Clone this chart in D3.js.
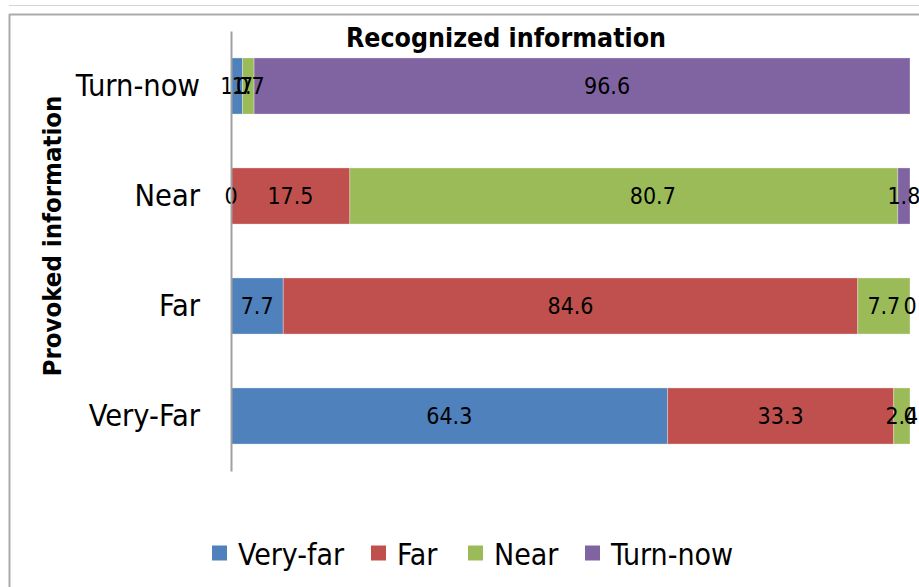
<!DOCTYPE html>
<html>
<head>
<meta charset="utf-8">
<script src="https://cdn.jsdelivr.net/npm/d3@7"></script>
<style>
  html, body { margin: 0; padding: 0; background: #fff; }
  svg { display: block; }
  text { font-family: "DejaVu Sans Condensed", "DejaVu Sans", sans-serif; fill: #000; }
</style>
</head>
<body>
<svg id="chart" width="919" height="587"></svg>
<script>
// Rows (top to bottom) and the recognized share of each class, in percent
const categories = ["Turn-now", "Near", "Far", "Very-Far"];
const seriesNames = ["Very-far", "Far", "Near", "Turn-now"];
const veryFar = [1.7, 0, 7.7, 64.3];
const far     = [0, 17.5, 84.6, 33.3];
const near    = [1.7, 80.7, 7.7, 2.4];
const turnNow = [96.6, 1.8, 0, 0];
const colors  = ["#4f81bd", "#c0504d", "#9bbb59", "#8064a2"];

const seriesValues = [veryFar, far, near, turnNow];
const rows = categories.map((c, i) => {
  const r = { category: c };
  seriesNames.forEach((s, k) => { r[s] = seriesValues[k][i]; });
  return r;
});

const svg = d3.select("#chart");
const W = 919, H = 587;

// Outer frame
svg.append("line").attr("x1", 9).attr("x2", W).attr("y1", 5.5).attr("y2", 5.5)
  .attr("stroke", "#d4d4d4").attr("stroke-width", 1);
svg.append("line").attr("x1", 9).attr("x2", W).attr("y1", 14.5).attr("y2", 14.5)
  .attr("stroke", "#ababab").attr("stroke-width", 2);
svg.append("line").attr("x1", 9.5).attr("x2", 9.5).attr("y1", 14).attr("y2", H)
  .attr("stroke", "#ababab").attr("stroke-width", 2);

const plot = { left: 231, right: 910, top: 31, bottom: 471 };

const x = d3.scaleLinear().domain([0, 100]).range([plot.left, plot.right]);
const y = d3.scaleBand().domain(categories).range([plot.top, plot.bottom])
  .paddingInner(0.49).paddingOuter(0.245);

const stacked = d3.stack().keys(seriesNames)(rows);

const layers = svg.append("g").selectAll("g")
  .data(stacked).join("g")
  .attr("fill", (d, i) => colors[i]);

layers.selectAll("rect")
  .data(d => d)
  .join("rect")
  .attr("x", d => x(d[0]))
  .attr("y", d => y(d.data.category))
  .attr("width", d => x(d[1]) - x(d[0]))
  .attr("height", y.bandwidth())
  .attr("stroke", "#ffffff").attr("stroke-opacity", 0.3).attr("stroke-width", 1);

// Value labels centred in each segment; the two widest ones sit a little right of centre
const labelNudge = { "Turn-now|Turn-now": 25, "Near|Near": 29 };
const labels = svg.append("g");
stacked.forEach(layer => {
  layer.forEach(d => {
    const v = d[1] - d[0];
    const nudge = labelNudge[d.data.category + "|" + layer.key] || 0;
    labels.append("text")
      .attr("x", (x(d[0]) + x(d[1])) / 2 + nudge)
      .attr("y", y(d.data.category) + y.bandwidth() / 2)
      .attr("text-anchor", "middle")
      .attr("dominant-baseline", "central")
      .attr("font-size", 23)
      .text(Math.round(v * 10) / 10);
  });
});

// Category axis
const yAxis = d3.axisLeft(y).tickSize(0).tickPadding(31);
const ag = svg.append("g").attr("transform", `translate(${plot.left},0)`).call(yAxis);
ag.select(".domain").attr("stroke", "#a0a0a0").attr("stroke-width", 2);
ag.selectAll(".tick text").attr("font-size", 30.5)
  .style("font-family", '"DejaVu Sans Condensed", "DejaVu Sans", sans-serif');

// Titles
svg.append("text").attr("x", 506).attr("y", 47).attr("text-anchor", "middle")
  .attr("font-size", 26.5).attr("font-weight", "bold").text("Recognized information");
svg.append("text").attr("transform", "translate(61,236) rotate(-90)")
  .attr("text-anchor", "middle").attr("font-size", 25.5).attr("font-weight", "bold")
  .text("Provoked information");

// Legend
const legendX = [212, 371, 468, 585];
const lg = svg.append("g").selectAll("g").data(seriesNames).join("g")
  .attr("transform", (d, i) => `translate(${legendX[i]},553)`);
lg.append("rect").attr("x", 0).attr("y", -7.5).attr("width", 15).attr("height", 15)
  .attr("fill", (d, i) => colors[i]);
lg.append("text").attr("x", 26).attr("y", 1).attr("dominant-baseline", "central")
  .attr("font-size", 30).text(d => d);
</script>
</body>
</html>
